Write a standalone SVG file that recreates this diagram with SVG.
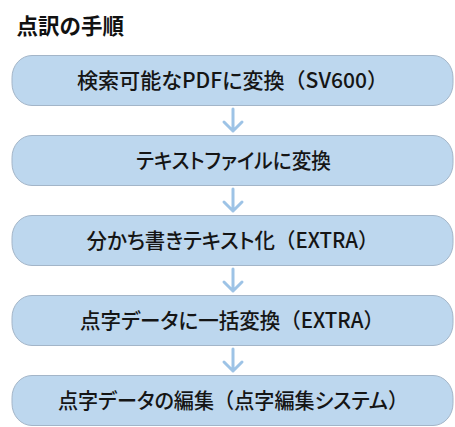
<svg xmlns="http://www.w3.org/2000/svg" width="455" height="427" viewBox="0 0 455 427">
<defs>
<style>
.box{fill:#BDD7EE;stroke:#A3B5C8;stroke-width:1}
.lbl{font-family:"Noto Sans CJK JP","Noto Sans",sans-serif;font-size:21px;font-weight:500;fill:#151515;text-anchor:middle;font-feature-settings:"palt"}
.fw{font-feature-settings:normal}
.title{font-family:"Noto Sans CJK JP","Noto Sans",sans-serif;font-size:21.5px;font-weight:bold;fill:#111}
.arr{stroke:#9DC3E6;stroke-width:3;fill:none;stroke-linecap:round;stroke-linejoin:round}
</style>
</defs>
<rect width="455" height="427" fill="#fff"/>
<text class="title" x="16.5" y="34">点訳の手順</text>
<g id="connectors">
<path class="arr" d="M233 109V131M224 122L233 131L242 122"/>
<path class="arr" d="M233 189V211M224 202L233 211L242 202"/>
<path class="arr" d="M233 269V291M224 282L233 291L242 282"/>
<path class="arr" d="M233 349V371M224 362L233 371L242 362"/>
</g>
<g id="n1"><rect class="box" x="12" y="55.5" width="441" height="50" rx="20" ry="22"/><text class="lbl" x="232.5" y="88" textLength="311" lengthAdjust="spacingAndGlyphs">検索可能なPDFに変換<tspan class="fw">（</tspan>SV600<tspan class="fw">）</tspan></text></g>
<g id="n2"><rect class="box" x="12" y="135.5" width="441" height="50" rx="20" ry="22"/><text class="lbl" x="233.5" y="168" textLength="195" lengthAdjust="spacingAndGlyphs">テキストファイルに変換</text></g>
<g id="n3"><rect class="box" x="12" y="215.5" width="441" height="50" rx="20" ry="22"/><text class="lbl" x="232.5" y="248" textLength="292" lengthAdjust="spacingAndGlyphs">分かち書きテキスト化<tspan class="fw">（</tspan>EXTRA<tspan class="fw">）</tspan></text></g>
<g id="n4"><rect class="box" x="12" y="295.5" width="441" height="50" rx="20" ry="22"/><text class="lbl" x="232" y="328" textLength="304" lengthAdjust="spacingAndGlyphs">点字データに一括変換<tspan class="fw">（</tspan>EXTRA<tspan class="fw">）</tspan></text></g>
<g id="n5"><rect class="box" x="12" y="375.5" width="441" height="50" rx="20" ry="22"/><text class="lbl" x="233" y="408" textLength="350" lengthAdjust="spacingAndGlyphs">点字データの編集<tspan class="fw">（</tspan>点字編集システム<tspan class="fw">）</tspan></text></g>
</svg>
